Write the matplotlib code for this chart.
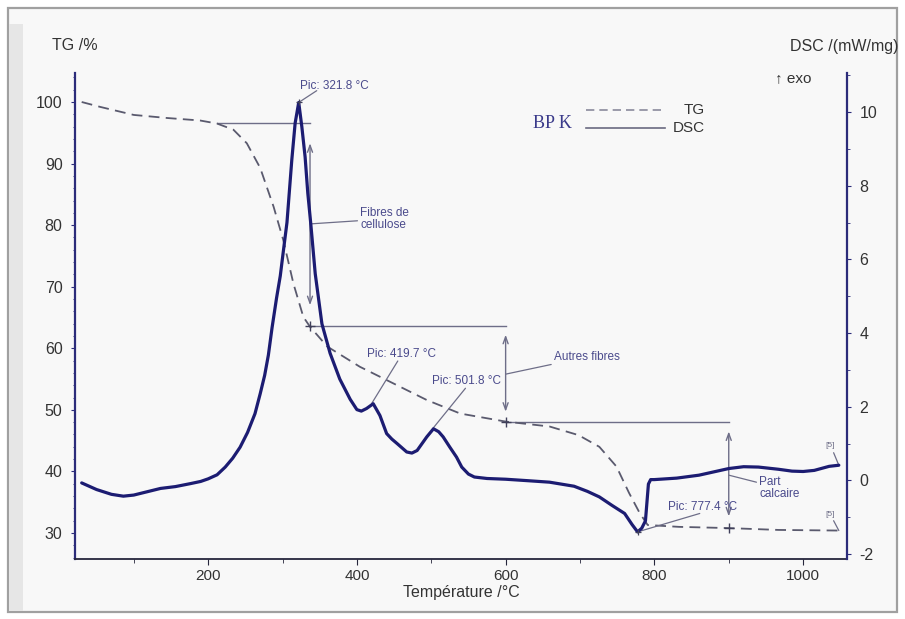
import matplotlib
matplotlib.use('Agg')
import matplotlib.pyplot as plt
from matplotlib.patches import Rectangle
from matplotlib.ticker import MultipleLocator

plt.rcParams['font.family'] = ['Liberation Sans', 'DejaVu Sans']
plt.rcParams['axes.unicode_minus'] = False

# ---------------- data ----------------
dsc_T = [30, 50, 70, 86, 100, 120, 136, 156, 176, 190, 200, 212, 223, 233, 243, 253, 263,
         270, 276, 281, 286, 292, 297, 301, 306, 312.5, 317, 321.8, 326, 330.4, 334, 338,
         344, 353, 364, 377, 391, 400, 406, 413, 422, 431, 440, 447, 454, 467, 474, 481,
         494, 503, 510, 516, 525, 534, 541, 550, 558, 575, 600, 630, 659, 692, 710, 726,
         743, 760, 770, 777.4, 783, 788, 792, 795, 800, 830, 860, 900, 920, 940, 967, 985,
         1000, 1015, 1035, 1048]
dsc_val = [-0.07, -0.25, -0.38, -0.43, -0.40, -0.30, -0.22, -0.17, -0.09, -0.03, 0.04, 0.15,
           0.36, 0.60, 0.90, 1.30, 1.81, 2.35, 2.85, 3.40, 4.15, 4.95, 5.55, 6.20, 7.00, 8.70,
           9.70, 10.26, 9.60, 8.78, 7.80, 6.97, 5.61, 4.25, 3.45, 2.75, 2.20, 1.92, 1.88, 1.95,
           2.08, 1.76, 1.27, 1.12, 1.00, 0.77, 0.74, 0.81, 1.18, 1.40, 1.32, 1.18, 0.90, 0.63,
           0.36, 0.17, 0.09, 0.05, 0.03, -0.01, -0.05, -0.16, -0.30, -0.45, -0.68, -0.90, -1.20,
           -1.40, -1.30, -1.10, -0.10, 0.02, 0.02, 0.06, 0.14, 0.32, 0.37, 0.36, 0.30, 0.25,
           0.24, 0.27, 0.38, 0.41]

tg_T = [30, 55, 100, 145, 189, 212, 234, 252, 270, 288, 301, 314.7, 328, 337, 360, 404, 449,
        494, 539, 600, 659, 698, 726, 749, 766, 780, 791, 833, 900, 967, 1048]
tg_val = [100.0, 99.2, 97.9, 97.4, 97.0, 96.5, 95.5, 93.3, 89.3, 83.0, 77.6, 70.5, 65.1, 63.5,
          60.3, 57.0, 54.3, 51.6, 49.4, 48.1, 47.3, 45.9, 44.0, 40.8, 36.5, 33.3, 31.3, 31.0,
          30.8, 30.5, 30.4]

x_ticks = [200, 400, 600, 800, 1000]
tg_ticks = [30, 40, 50, 60, 70, 80, 90, 100]
dsc_ticks = [-2, 0, 2, 4, 6, 8, 10]

peak_T = [321.8, 419.7, 501.8, 777.4]
peak_dsc = [10.26, 2.08, 1.40, -1.40]
peak_labels = ['Pic: 321.8 °C', 'Pic: 419.7 °C', 'Pic: 501.8 °C', 'Pic: 777.4 °C']

step_T = [337, 600, 900]
step_tg = [63.6, 48.1, 30.8]

# ---------------- style ----------------
NAVY = '#1c1c72'
AXC = '#2c2c7a'
GRAYL = '#6e6e88'
TXT = '#4a4a8c'
TICK_TXT = '#333333'

fig = plt.figure(figsize=(9.05, 6.19), dpi=100)
fig.patch.set_facecolor('white')
W, H = 905.0, 619.0
fig.add_artist(Rectangle((8 / W, 1 - 612 / H), (897 - 8) / W, (612 - 8) / H,
                         transform=fig.transFigure, facecolor='#f8f8f8',
                         edgecolor='#a0a0a0', lw=1.6, zorder=0))
fig.add_artist(Rectangle((9 / W, 1 - 611 / H), 14 / W, (611 - 24) / H,
                         transform=fig.transFigure, facecolor='#e6e6e6',
                         edgecolor='none', zorder=0))

ax = fig.add_axes([75 / W, 1 - 559 / H, (847 - 75) / W, (559 - 73) / H])
ax.set_facecolor('none')
ax2 = ax.twinx()
ax2.set_facecolor('none')

ax.set_xlim(21, 1059)
ax.set_ylim(25.78, 104.71)
ax2.set_ylim(-2.136, 11.06)

# curves
ax.plot(tg_T, tg_val, color='#5a5a6e', lw=1.3, linestyle=(0, (6, 3.5)), zorder=3)
ax2.plot(dsc_T, dsc_val, color=NAVY, lw=2.3, zorder=4, solid_joinstyle='round',
         solid_capstyle='round')

# spines
for s in ['top', 'right']:
    ax.spines[s].set_visible(False)
for s in ['top', 'left', 'bottom']:
    ax2.spines[s].set_visible(False)
ax.spines['left'].set_color(AXC)
ax.spines['left'].set_linewidth(1.6)
ax.spines['bottom'].set_color('#26263c')
ax.spines['bottom'].set_linewidth(1.3)
ax2.spines['right'].set_color(AXC)
ax2.spines['right'].set_linewidth(1.6)

ax.set_xticks(x_ticks)
ax.xaxis.set_minor_locator(MultipleLocator(100))
ax.set_yticks(tg_ticks)
ax.yaxis.set_minor_locator(MultipleLocator(2))
ax2.set_yticks(dsc_ticks)
ax2.yaxis.set_minor_locator(MultipleLocator(1))

ax.tick_params(axis='x', which='major', direction='out', length=4, color='#26263c',
               labelsize=11, labelcolor=TICK_TXT, pad=3)
ax.tick_params(axis='x', which='minor', direction='out', length=3, color='#26263c')
ax.tick_params(axis='y', which='major', direction='out', length=3, color=AXC,
               labelsize=11.5, labelcolor=TICK_TXT, pad=6)
ax.tick_params(axis='y', which='minor', direction='out', length=1.5, color=AXC, width=0.6)
ax2.tick_params(axis='y', which='major', direction='out', length=3, color=AXC,
                labelsize=11.5, labelcolor=TICK_TXT, pad=6)
ax2.tick_params(axis='y', which='minor', direction='out', length=2, color=AXC)

# axis titles
fig.text(52 / W, 1 - 46 / H, 'TG /%', fontsize=11.5, color=TICK_TXT, va='center', ha='left')
fig.text(790 / W, 1 - 46 / H, 'DSC /(mW/mg)', fontsize=11.5, color=TICK_TXT, va='center', ha='left')
fig.text(775 / W, 1 - 78 / H, '↑ exo', fontsize=11, color=TICK_TXT, va='center', ha='left')
fig.text(461 / W, 1 - 592 / H, 'Température /°C', fontsize=11.5, color=TICK_TXT,
         va='center', ha='center')

# legend block
fig.text(533 / W, 1 - 123 / H, 'BP K', fontsize=13, color='#3a3a8a', va='center', ha='left',
         family=['Liberation Serif', 'DejaVu Serif'])
fig.add_artist(plt.Line2D([586 / W, 665 / W], [1 - 110.5 / H, 1 - 110.5 / H],
                          transform=fig.transFigure, color='#8a8a9c', lw=1.2,
                          linestyle=(0, (5, 3))))
fig.add_artist(plt.Line2D([586 / W, 665 / W], [1 - 127.5 / H, 1 - 127.5 / H],
                          transform=fig.transFigure, color='#6a6a80', lw=1.2))
fig.text(705 / W, 1 - 110 / H, 'TG', fontsize=11, color=TICK_TXT, va='center', ha='right')
fig.text(705 / W, 1 - 128 / H, 'DSC', fontsize=11, color=TICK_TXT, va='center', ha='right')

# step construction lines (TG coordinates)
ax.plot([212, step_T[0]], [96.6, 96.6], color=GRAYL, lw=1.0, zorder=2)
ax.plot([step_T[0], step_T[1]], [step_tg[0], step_tg[0]], color=GRAYL, lw=1.0, zorder=2)
ax.plot([step_T[1], step_T[2]], [step_tg[1], step_tg[1]], color=GRAYL, lw=1.0, zorder=2)
ax.plot(step_T, step_tg, linestyle='none', marker='+', ms=7, mew=1.0, color='#40405a', zorder=5)

arrow_kw = dict(arrowstyle='<->,head_length=0.5,head_width=0.18', color=GRAYL, lw=1.0,
                shrinkA=0, shrinkB=0)
ax.annotate('', xy=(step_T[0], 93.3), xytext=(step_T[0], 67.0), arrowprops=arrow_kw)
ax.annotate('', xy=(step_T[1], 62.2), xytext=(step_T[1], 49.7), arrowprops=arrow_kw)
ax.annotate('', xy=(step_T[2], 46.5), xytext=(step_T[2], 32.7), arrowprops=arrow_kw)

lead = dict(arrowstyle='-', color=GRAYL, lw=0.9, shrinkA=0, shrinkB=0)
ax.annotate('Fibres de\ncellulose', xy=(step_T[0], 80.2), xytext=(404.5, 81.0),
            fontsize=8.5, color=TXT, va='center', ha='left', arrowprops=lead,
            linespacing=1.05)
ax.annotate('Autres fibres', xy=(step_T[1], 55.8), xytext=(665, 58.6),
            fontsize=8.5, color=TXT, va='center', ha='left', arrowprops=lead)
ax.annotate('Part\ncalcaire', xy=(step_T[2], 39.4), xytext=(941, 37.3),
            fontsize=8.5, color=TXT, va='center', ha='left', arrowprops=lead,
            linespacing=1.05)

# peak labels (DSC coordinates)
peak_text_xy = [(323.5, 10.72), (413.8, 3.42), (501.2, 2.70), (818.5, -0.73)]
peak_lead_end = [(346, 10.58), (455, 3.24), (546, 2.50), (861, -0.90)]
for (pt, pv, lab, txy, le) in zip(peak_T, peak_dsc, peak_labels, peak_text_xy, peak_lead_end):
    ax2.annotate('', xy=(pt, pv), xytext=le, arrowprops=lead)
    ax2.text(txy[0], txy[1], lab, fontsize=8.5, color=TXT, va='center', ha='left')
ax2.plot([peak_T[0], peak_T[3]], [peak_dsc[0], peak_dsc[3]], linestyle='none', marker='+',
         ms=5, mew=0.9, color='#40405a', zorder=5)

# [5] markers near curve ends
ax2.annotate('', xy=(dsc_T[-1], dsc_val[-1]), xytext=(1041, 0.75), arrowprops=lead)
ax2.text(1036, 0.95, '[5]', fontsize=6, color=GRAYL, va='center', ha='center')
ax.annotate('', xy=(tg_T[-1], tg_val[-1]), xytext=(1041, 32.0), arrowprops=lead)
ax.text(1036, 33.0, '[5]', fontsize=6, color=GRAYL, va='center', ha='center')

fig.savefig('out.png', dpi=100, facecolor=fig.get_facecolor())
